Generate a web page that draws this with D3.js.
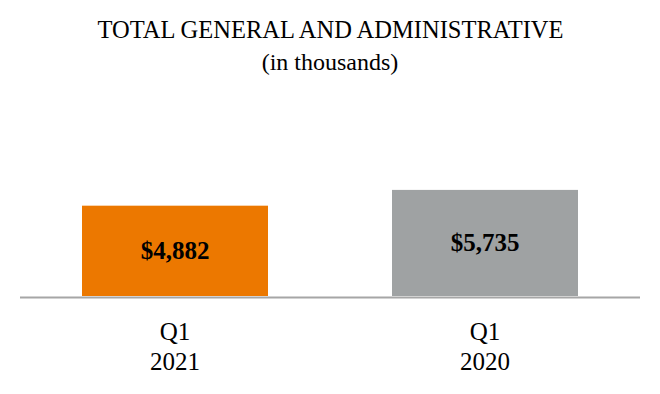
<!DOCTYPE html>
<html>
<head>
<meta charset="utf-8">
<script src="https://cdn.jsdelivr.net/npm/d3@7"></script>
<style>
  body { margin: 0; background: #fff; }
  svg { display: block; font-family: "Liberation Serif", "Times New Roman", serif; }
</style>
</head>
<body>
<div id="chart"></div>
<script>
// chart data
const quarters = ["Q1", "Q1"];
const years = ["2021", "2020"];
const values = [4882, 5735];
const valueLabels = ["$4,882", "$5,735"];
const barColors = ["#ec7800", "#9fa2a3"];

const w = 660, h = 394;
const baseY = 296;

const svg = d3.select("#chart")
    .append("svg")
    .attr("width", w)
    .attr("height", h);

// title
svg.append("text")
    .attr("x", 330.5)
    .attr("y", 38)
    .attr("text-anchor", "middle")
    .attr("font-size", 24.5)
    .attr("fill", "#000")
    .text("TOTAL GENERAL AND ADMINISTRATIVE");

svg.append("text")
    .attr("x", 330)
    .attr("y", 70)
    .attr("text-anchor", "middle")
    .attr("font-size", 24)
    .attr("fill", "#000")
    .text("(in thousands)");

// scales
const x = d3.scaleBand()
    .domain(d3.range(values.length))
    .range([20, 640])
    .paddingInner(0.4)
    .paddingOuter(0.2);

const y = d3.scaleLinear()
    .domain([0, 6000])
    .range([baseY, baseY - 111]);

// bars
svg.selectAll("rect.bar")
    .data(values)
    .enter()
    .append("rect")
    .attr("class", "bar")
    .attr("x", (d, i) => x(i))
    .attr("y", d => y(d))
    .attr("width", x.bandwidth())
    .attr("height", d => y(0) - y(d))
    .attr("fill", (d, i) => barColors[i]);

// value labels inside the bars
svg.selectAll("text.val")
    .data(values)
    .enter()
    .append("text")
    .attr("class", "val")
    .attr("x", (d, i) => x(i) + x.bandwidth() / 2)
    .attr("y", d => (y(d) + y(0)) / 2 + 8)
    .attr("text-anchor", "middle")
    .attr("font-size", 25)
    .attr("font-weight", "bold")
    .attr("fill", "#000")
    .text((d, i) => valueLabels[i]);

// baseline
svg.append("line")
    .attr("x1", 20)
    .attr("x2", 640)
    .attr("y1", baseY + 1.5)
    .attr("y2", baseY + 1.5)
    .attr("stroke", "#a6a6a6")
    .attr("stroke-width", 2);

// category labels
const cats = svg.selectAll("text.cat")
    .data(values)
    .enter()
    .append("text")
    .attr("class", "cat")
    .attr("text-anchor", "middle")
    .attr("font-size", 25)
    .attr("fill", "#000");

cats.append("tspan")
    .attr("x", (d, i) => x(i) + x.bandwidth() / 2)
    .attr("y", 340)
    .text((d, i) => quarters[i]);

cats.append("tspan")
    .attr("x", (d, i) => x(i) + x.bandwidth() / 2)
    .attr("y", 370)
    .text((d, i) => years[i]);
</script>
</body>
</html>
